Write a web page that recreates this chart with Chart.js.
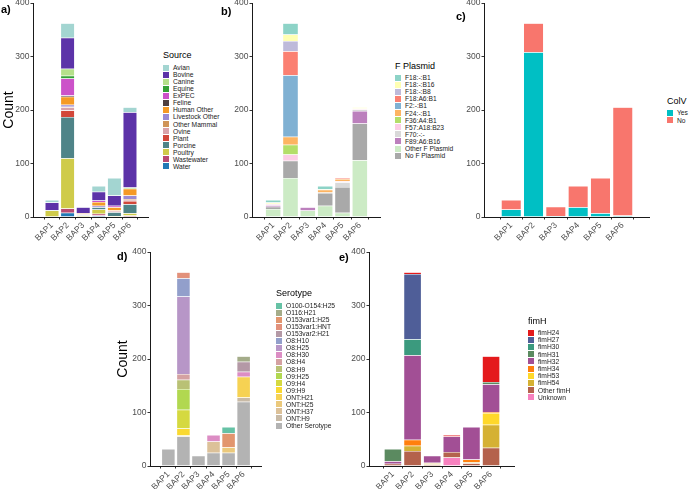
<!DOCTYPE html>
<html>
<head>
<meta charset="UTF-8">
<title>BAP composition</title>
<script src="https://cdn.jsdelivr.net/npm/chart.js@4.4.0/dist/chart.umd.min.js"></script>
<style>
  body { margin: 0; background: #fff; width: 698px; height: 489px; position: relative; overflow: hidden; font-family: 'Liberation Sans', Arial, sans-serif; }
  canvas { position: absolute; }
  .tag { position: absolute; font-weight: bold; font-size: 11px; line-height: 11px; color: #000; }
  .lt { position: absolute; font-size: 9px; line-height: 10px; color: #000; white-space: nowrap; }
  .li { position: absolute; height: 7px; line-height: 7px; font-size: 6.7px; color: #1a1a1a; display: flex; align-items: center; white-space: nowrap; }
  .li span { width: 6px; height: 6px; margin-right: 4px; flex: none; }
</style>
</head>
<body>
<canvas id="ca"></canvas>
<canvas id="cb"></canvas>
<canvas id="cc"></canvas>
<canvas id="cd"></canvas>
<canvas id="ce"></canvas>
<div class="tag" style="left:1px;top:4px">a)</div>
<div class="tag" style="left:221px;top:6px">b)</div>
<div class="tag" style="left:456px;top:11px">c)</div>
<div class="tag" style="left:117px;top:251px">d)</div>
<div class="tag" style="left:339px;top:252px">e)</div>
<script>
const baps = ['BAP1', 'BAP2', 'BAP3', 'BAP4', 'BAP5', 'BAP6'];
const yTicks = [0, 100, 200, 300, 400];

// a) Source
const sourceNames = ['Avian', 'Bovine', 'Canine', 'Equine', 'ExPEC', 'Feline', 'Human Other', 'Livestock Other',
  'Other Mammal', 'Ovine', 'Plant', 'Porcine', 'Poultry', 'Wastewater', 'Water'];
const sourceColors = ['#a3d5d1', '#5c33a8', '#b5e08a', '#35a135', '#cc52c9', '#4f3f3f', '#f59a25', '#9a8bd3',
  '#cf9558', '#d9a3aa', '#d2473a', '#4f8488', '#cfcb4a', '#b84a72', '#2179b5'];
const avian = [5, 27, 1, 11, 33, 9];
const bovine = [14, 58, 11, 16, 19, 141];
const canine = [0, 13, 0, 0, 0, 2];
const equine = [0, 5, 0, 0, 0, 0];
const expec = [0, 32, 0, 3, 3, 0];
const feline = [0, 2, 0, 0, 0, 0];
const humanOther = [0, 15, 2, 7, 6, 13];
const livestockOther = [0, 4, 0, 3, 0, 7];
const otherMammal = [0, 1, 0, 0, 0, 1];
const ovine = [0, 6, 1, 0, 2, 2];
const plant = [0, 12, 0, 0, 1, 6];
const porcine = [1, 77, 1, 4, 7, 17];
const poultry = [11, 94, 2, 8, 1, 4];
const wastewater = [1, 8, 1, 3, 0, 3];
const water = [0, 8, 0, 3, 1, 0];

// b) F Plasmid
const plasmidNames = ['F18:-:B1', 'F18:-:B16', 'F18:-:B8', 'F18:A6:B1', 'F2:-:B1', 'F24:-:B1', 'F36:A4:B1',
  'F57:A18:B23', 'F70:-:-', 'F89:A6:B16', 'Other F Plasmid', 'No F Plasmid'];
const plasmidColors = ['#8dd3c7', '#ffffb3', '#bebada', '#fb8072', '#80b1d3', '#fdb462', '#b3de69',
  '#fccde5', '#d9d9d9', '#bc80bd', '#ccebc5', '#a9a9a9'];
const f18b1 = [5, 21, 0, 6, 0, 0];
const f18b16 = [2, 12, 0, 1, 0, 2];
const f18b8 = [0, 19, 0, 0, 0, 0];
const f18a6b1 = [0, 45, 0, 0, 2, 0];
const f2b1 = [0, 115, 0, 0, 0, 0];
const f24b1 = [0, 15, 0, 5, 4, 0];
const f36a4b1 = [0, 18, 0, 0, 0, 0];
const f57 = [2, 12, 1, 0, 2, 2];
const f70 = [1, 0, 0, 1, 9, 3];
const f89 = [3, 0, 6, 0, 0, 23];
const otherF = [15, 73, 12, 21, 8, 106];
const noF = [4, 32, 0, 24, 48, 69];

// c) ColV
const colvNames = ['Yes', 'No'];
const colvColors = ['#00bfc4', '#f8766d'];
const colvYes = [14, 308, 2, 18, 7, 3];
const colvNo = [18, 54, 17, 40, 66, 202];

// d) Serotype
const seroNames = ['O100-O154:H25', 'O116:H21', 'O153var1:H25', 'O153var1:HNT', 'O153var2:H21', 'O8:H10', 'O8:H25',
  'O8:H30', 'O8:H4', 'O8:H9', 'O9:H25', 'O9:H4', 'O9:H9', 'ONT:H21', 'ONT:H25', 'ONT:H37', 'ONT:H9', 'Other Serotype'];
const seroColors = ['#66c2a5', '#a4ac89', '#e2966e', '#e2917b', '#b499a6', '#929fcb', '#b796c7', '#dc8dc4', '#d4a1a2',
  '#b9c175', '#b1d850', '#d5d940', '#fad931', '#f6d253', '#ebc97c', '#dcc199', '#c8baa6', '#b3b3b3'];
const o100 = [0, 0, 0, 0, 12, 0];
const o116h21 = [0, 0, 0, 0, 0, 10];
const o153v1h25 = [0, 0, 0, 0, 26, 0];
const o153v1hnt = [0, 11, 0, 0, 0, 0];
const o153v2h21 = [0, 0, 0, 0, 0, 19];
const o8h10 = [0, 34, 0, 0, 0, 0];
const o8h25 = [0, 145, 0, 0, 0, 0];
const o8h30 = [0, 0, 0, 12, 0, 9];
const o8h4 = [0, 11, 0, 0, 0, 0];
const o8h9 = [0, 17, 0, 0, 0, 0];
const o9h25 = [0, 39, 0, 0, 0, 0];
const o9h4 = [0, 35, 0, 0, 0, 0];
const o9h9 = [0, 13, 0, 0, 0, 0];
const ontH21 = [0, 0, 0, 0, 0, 39];
const ontH25 = [0, 0, 0, 0, 10, 0];
const ontH37 = [0, 0, 0, 21, 0, 0];
const ontH9 = [0, 2, 0, 0, 0, 8];
const otherSero = [32, 55, 19, 25, 25, 120];

// e) fimH
const fimNames = ['fimH24', 'fimH27', 'fimH30', 'fimH31', 'fimH32', 'fimH34', 'fimH53', 'fimH54', 'Other fimH', 'Unknown'];
const fimColors = ['#e41a1c', '#4f5e98', '#3b9a7e', '#5b8a60', '#a24f95', '#ff7f0e', '#ffd82a', '#d5b133', '#b4624c', '#f781bf'];
const fimH24 = [0, 3, 0, 3, 0, 48];
const fimH27 = [0, 122, 0, 0, 0, 0];
const fimH30 = [0, 30, 0, 0, 0, 0];
const fimH31 = [23, 0, 0, 0, 0, 4];
const fimH32 = [5, 158, 13, 29, 61, 52];
const fimH34 = [0, 11, 1, 0, 5, 2];
const fimH53 = [0, 0, 0, 0, 0, 22];
const fimH54 = [0, 10, 2, 0, 2, 43];
const otherFim = [4, 28, 3, 10, 5, 34];
const unknownFim = [0, 0, 0, 16, 0, 0];

Chart.defaults.font.family = "'Liberation Sans', Arial, sans-serif";

// series listed bottom -> top of each stack
function stackChart(id, names, colors, series, box) {
  const cv = document.getElementById(id);
  cv.width = box.w; cv.height = box.h;
  cv.style.left = box.left + 'px'; cv.style.top = box.top + 'px';
  const datasets = series.map(s => {
    const i = names.indexOf(s.name);
    return {
      label: s.name,
      data: s.values.map((v, k) => ({ x: k + 1, y: v })),
      backgroundColor: colors[i],
      borderColor: 'rgba(255,255,255,0.7)',
      borderWidth: 0.5,
      barPercentage: 0.9,
      categoryPercentage: 1
    };
  });
  return new Chart(cv, {
    type: 'bar',
    data: { datasets },
    options: {
      responsive: false,
      animation: false,
      layout: { padding: { top: 8, right: 0, left: 0, bottom: 0 } },
      plugins: { legend: { display: false }, tooltip: { enabled: false } },
      scales: {
        x: {
          type: 'linear', stacked: true, min: 0.4, max: 6.6,
          afterBuildTicks: s => { s.ticks = baps.map((b, k) => ({ value: k + 1 })); },
          ticks: { autoSkip: false, minRotation: 45, maxRotation: 45, padding: 1, color: '#4d4d4d', font: { size: 8.5 },
            callback: v => baps[v - 1] },
          grid: { drawOnChartArea: false, tickLength: 2.5, color: '#333' },
          border: { color: '#1a1a1a', width: 1 },
          afterFit: s => { s.height = box.xh; }
        },
        y: {
          stacked: true, min: 0, max: 400,
          afterBuildTicks: s => { s.ticks = yTicks.map(v => ({ value: v })); },
          ticks: { padding: 1, color: '#4d4d4d', font: { size: 8.5 } },
          grid: { drawOnChartArea: false, tickLength: 2.5, color: '#333' },
          border: { color: '#1a1a1a', width: 1 },
          title: { display: !!box.title, text: 'Count', color: '#000', font: { size: 14 }, padding: { top: 1, bottom: 0 } },
          afterFit: s => { s.width = box.yw; }
        }
      }
    }
  });
}

function addLegend(title, names, colors, x, titleTop, itemsTop, step) {
  const t = document.createElement('div');
  t.className = 'lt';
  t.style.left = x + 'px';
  t.style.top = titleTop + 'px';
  t.textContent = title;
  document.body.appendChild(t);
  names.forEach((n, i) => {
    const row = document.createElement('div');
    row.className = 'li';
    row.style.left = x + 'px';
    row.style.top = (itemsTop + i * step) + 'px';
    const sw = document.createElement('span');
    sw.style.background = colors[i];
    row.appendChild(sw);
    row.appendChild(document.createTextNode(n));
    document.body.appendChild(row);
  });
}

stackChart('ca', sourceNames, sourceColors, [
  { name: 'Water', values: water }, { name: 'Wastewater', values: wastewater }, { name: 'Poultry', values: poultry },
  { name: 'Porcine', values: porcine }, { name: 'Plant', values: plant }, { name: 'Ovine', values: ovine },
  { name: 'Other Mammal', values: otherMammal }, { name: 'Livestock Other', values: livestockOther },
  { name: 'Human Other', values: humanOther }, { name: 'Feline', values: feline }, { name: 'ExPEC', values: expec },
  { name: 'Equine', values: equine }, { name: 'Canine', values: canine }, { name: 'Bovine', values: bovine },
  { name: 'Avian', values: avian }
], { left: 0, top: -5, w: 149, h: 250, yw: 33, xh: 28, title: true });

stackChart('cb', plasmidNames, plasmidColors, [
  { name: 'Other F Plasmid', values: otherF }, { name: 'No F Plasmid', values: noF }, { name: 'F89:A6:B16', values: f89 },
  { name: 'F70:-:-', values: f70 }, { name: 'F57:A18:B23', values: f57 }, { name: 'F36:A4:B1', values: f36a4b1 },
  { name: 'F24:-:B1', values: f24b1 }, { name: 'F2:-:B1', values: f2b1 }, { name: 'F18:A6:B1', values: f18a6b1 },
  { name: 'F18:-:B8', values: f18b8 }, { name: 'F18:-:B16', values: f18b16 }, { name: 'F18:-:B1', values: f18b1 }
], { left: 230, top: -5, w: 151, h: 250, yw: 22, xh: 28 });

stackChart('cc', colvNames, colvColors, [
  { name: 'Yes', values: colvYes }, { name: 'No', values: colvNo }
], { left: 462, top: -5, w: 188, h: 250, yw: 22, xh: 28 });

stackChart('cd', seroNames, seroColors, [
  { name: 'Other Serotype', values: otherSero }, { name: 'ONT:H9', values: ontH9 }, { name: 'ONT:H37', values: ontH37 },
  { name: 'ONT:H25', values: ontH25 }, { name: 'ONT:H21', values: ontH21 }, { name: 'O9:H9', values: o9h9 },
  { name: 'O9:H4', values: o9h4 }, { name: 'O9:H25', values: o9h25 }, { name: 'O8:H9', values: o8h9 },
  { name: 'O8:H4', values: o8h4 }, { name: 'O8:H30', values: o8h30 }, { name: 'O8:H25', values: o8h25 },
  { name: 'O8:H10', values: o8h10 }, { name: 'O153var2:H21', values: o153v2h21 }, { name: 'O153var1:HNT', values: o153v1hnt },
  { name: 'O153var1:H25', values: o153v1h25 }, { name: 'O116:H21', values: o116h21 }, { name: 'O100-O154:H25', values: o100 }
], { left: 114, top: 244, w: 148, h: 248, yw: 36, xh: 26, title: true });

stackChart('ce', fimNames, fimColors, [
  { name: 'Unknown', values: unknownFim }, { name: 'Other fimH', values: otherFim }, { name: 'fimH54', values: fimH54 },
  { name: 'fimH53', values: fimH53 }, { name: 'fimH34', values: fimH34 }, { name: 'fimH32', values: fimH32 },
  { name: 'fimH31', values: fimH31 }, { name: 'fimH30', values: fimH30 }, { name: 'fimH27', values: fimH27 },
  { name: 'fimH24', values: fimH24 }
], { left: 345, top: 244, w: 170, h: 248, yw: 24, xh: 26 });

addLegend('Source', sourceNames, sourceColors, 163, 49.5, 64, 7.07);
addLegend('F Plasmid', plasmidNames, plasmidColors, 395, 60.5, 74, 7.1);
addLegend('ColV', colvNames, colvColors, 667, 95.5, 109, 7.5);
addLegend('Serotype', seroNames, seroColors, 276, 287.5, 302, 7.06);
addLegend('fimH', fimNames, fimColors, 528, 315.5, 329, 7.2);
</script>
</body>
</html>
